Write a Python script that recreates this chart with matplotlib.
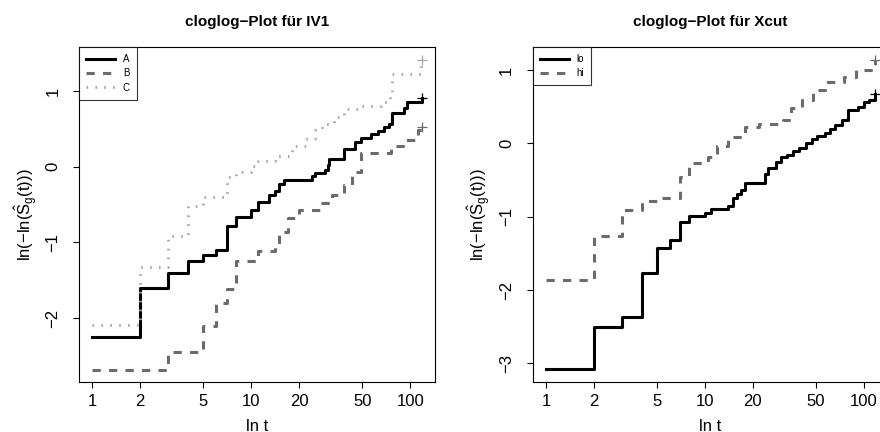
import numpy as np
import matplotlib
matplotlib.use("Agg")
import matplotlib.pyplot as plt
from matplotlib.lines import Line2D

plt.rcParams['font.family'] = ['Liberation Sans', 'DejaVu Sans']
plt.rcParams['mathtext.fontset'] = 'custom'
plt.rcParams['mathtext.rm'] = 'Liberation Sans'
plt.rcParams['mathtext.it'] = 'Liberation Sans'

# step data (time, cloglog value)
tA = [1, 2, 3, 4, 5, 6, 7, 8, 10, 11, 13, 14, 15, 16, 24, 25, 29, 30.5, 31, 38, 45, 49, 57, 63, 68, 73, 77, 91, 95, 118]
yA = [-2.25, -1.60, -1.41, -1.25, -1.17, -1.10, -0.78, -0.67, -0.57, -0.47, -0.37, -0.32, -0.23, -0.18, -0.12,
      -0.09, -0.04, 0.02, 0.10, 0.23, 0.33, 0.38, 0.43, 0.47, 0.52, 0.57, 0.71, 0.77, 0.85, 0.91]
tB = [1, 3, 5, 6, 7, 8, 11, 14, 15, 17, 20, 27, 32, 38, 43, 49, 76, 93, 112, 118]
yB = [-2.69, -2.45, -2.10, -1.80, -1.61, -1.25, -1.11, -1.02, -0.86, -0.68, -0.57, -0.48, -0.37, -0.24,
      -0.07, 0.18, 0.27, 0.35, 0.49, 0.53]
tC = [1, 2, 3, 4, 5, 7, 8, 10, 11, 14, 18, 22, 25, 28, 33, 38, 49, 65, 75, 77, 116, 118]
yC = [-2.09, -1.33, -0.92, -0.52, -0.40, -0.13, -0.07, 0.01, 0.08, 0.14, 0.27, 0.36, 0.49, 0.57, 0.65,
      0.76, 0.80, 0.86, 0.93, 1.23, 1.40, 1.41]

tlo = [1, 2, 3, 4, 5, 6, 7, 8, 10, 11, 14, 15, 16, 17, 18, 24, 25, 28, 30, 33, 36, 39, 43, 47, 51, 57,
       61, 66, 73, 80, 92, 100, 108, 118]
ylo = [-3.08, -2.50, -2.37, -1.77, -1.43, -1.32, -1.07, -0.99, -0.95, -0.90, -0.86, -0.75, -0.69, -0.63,
       -0.54, -0.42, -0.34, -0.26, -0.19, -0.16, -0.11, -0.07, 0.00, 0.06, 0.10, 0.14, 0.19, 0.25, 0.32,
       0.45, 0.49, 0.57, 0.59, 0.67]
thi = [1, 2, 3, 4, 5, 7, 8, 10.5, 12, 14, 18, 22, 31, 35, 41, 48, 57, 75, 89, 118]
yhi = [-1.86, -1.27, -0.91, -0.79, -0.74, -0.46, -0.27, -0.18, -0.04, 0.09, 0.22, 0.27, 0.32, 0.48,
       0.59, 0.73, 0.84, 0.91, 1.00, 1.13]

xticks = [1, 2, 5, 10, 20, 50, 100]
xticklabels = ["1", "2", "5", "10", "20", "50", "100"]

BLACK = "black"
DARK = "#6b6b6b"
LIGHT = "#a6a6a6"
solid = dict(linestyle="-", lw=2.2)
dashed = dict(linestyle=(0, (2.7, 2.7)), lw=2.2)
dotted = dict(linestyle=(0, (0.6, 2.6)), lw=2.0)

W, H = 880, 432
fig = plt.figure(figsize=(W / 100, H / 100), dpi=100)
ax1 = fig.add_axes([79.2 / W, (H - 382) / H, 355.3 / W, 334.7 / H])
ax2 = fig.add_axes([532.7 / W, (H - 382) / H, 355.3 / W, 334.7 / H])


def style(ax, ylim, yticks, title):
    ax.set_xscale("log")
    ax.set_xlim(0.826, 142)
    ax.set_ylim(*ylim)
    ax.set_xticks(xticks)
    ax.set_xticklabels(xticklabels)
    ax.minorticks_off()
    ax.set_yticks(yticks)
    ax.set_yticklabels([str(v).replace("-", "\u2212") for v in yticks], rotation=90, va="center")
    ax.tick_params(direction="out", length=4.5, width=0.8, labelsize=12)
    ax.tick_params(axis="x", pad=4)
    ax.tick_params(axis="y", pad=9)
    for s in ax.spines.values():
        s.set_linewidth(0.8)
    ax.set_title(title, fontsize=11, fontweight="bold", pad=15)
    ax.set_xlabel("ln t", fontsize=12, labelpad=7)
    ax.set_ylabel(r"$\mathrm{ln(-ln(\hat{S}_g(t)))}$", fontsize=12, labelpad=4)


def curve(ax, t, y, color, ls):
    ax.step(t, y, where="post", color=color, **ls)
    ax.plot(t[-1], y[-1], marker="+", ms=7, mew=0.9, color=color, linestyle="none")


curve(ax1, tA, yA, BLACK, solid)
curve(ax1, tB, yB, DARK, dashed)
curve(ax1, tC, yC, LIGHT, dotted)
style(ax1, (-2.845, 1.577), [-2, -1, 0, 1], "cloglog\u2212Plot für IV1")

curve(ax2, tlo, ylo, BLACK, solid)
curve(ax2, thi, yhi, DARK, dashed)
style(ax2, (-3.255, 1.31), [-3, -2, -1, 0, 1], "cloglog\u2212Plot für Xcut")

h1 = [Line2D([], [], color=BLACK, **solid), Line2D([], [], color=DARK, **dashed),
      Line2D([], [], color=LIGHT, **dotted)]
leg1 = ax1.legend(h1, ["A", "B", "C"], loc="upper left", fontsize=7, frameon=True, fancybox=False,
                  borderaxespad=0, handlelength=3.0, handletextpad=0.8, labelspacing=0.45,
                  borderpad=0.7)
leg1.get_frame().set_edgecolor("black")
leg1.get_frame().set_linewidth(0.8)

h2 = [Line2D([], [], color=BLACK, **solid), Line2D([], [], color=DARK, **dashed)]
leg2 = ax2.legend(h2, ["lo", "hi"], loc="upper left", fontsize=7, frameon=True, fancybox=False,
                  borderaxespad=0, handlelength=3.0, handletextpad=0.8, labelspacing=0.45,
                  borderpad=0.7)
leg2.get_frame().set_edgecolor("black")
leg2.get_frame().set_linewidth(0.8)

fig.savefig("out.png", dpi=100)
